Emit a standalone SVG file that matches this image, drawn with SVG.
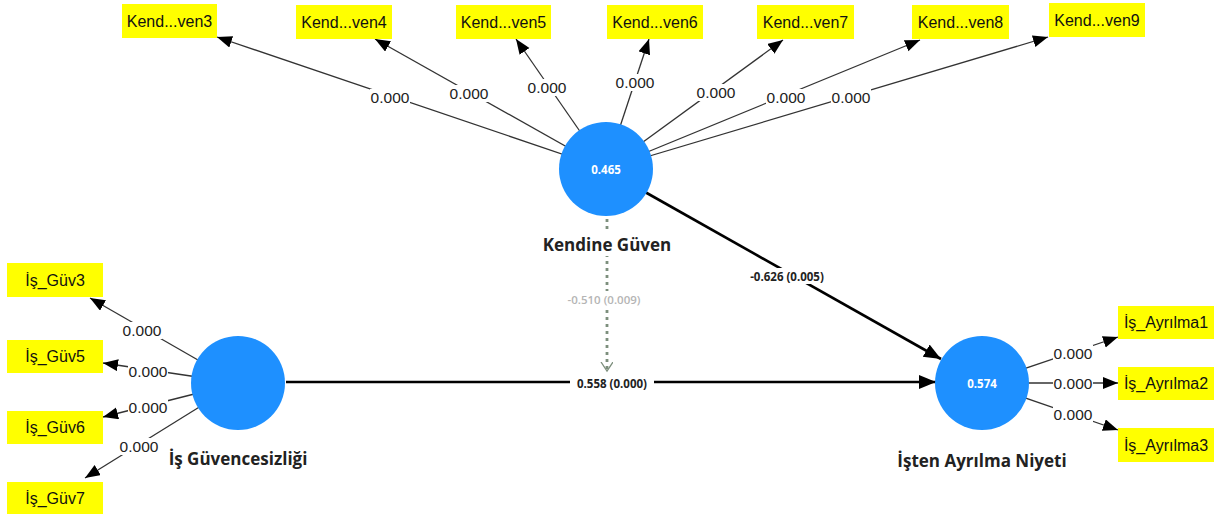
<svg xmlns="http://www.w3.org/2000/svg" width="1215" height="517" viewBox="0 0 1215 517">
<defs>
<style>
.ind{fill:#ffff00}
.it{font-family:"Liberation Sans",Arial,sans-serif;font-size:16px;fill:#111;text-anchor:middle;dominant-baseline:central}
.lv{fill:#1e90ff}
.lt{font-family:"Open Sans","Liberation Sans",sans-serif;font-weight:700;font-size:17px;fill:#222;text-anchor:middle;dominant-baseline:central}
.vt{font-family:"Open Sans","Liberation Sans",sans-serif;font-weight:700;font-size:11.5px;fill:#fff;text-anchor:middle;dominant-baseline:central}
.ol{stroke:#333;stroke-width:1.3;fill:none}
.sl{stroke:#000;stroke-width:2.6;fill:none}
.ml{stroke:#7d8f7d;stroke-width:2.8;stroke-dasharray:3 4;fill:none}
.bg{fill:#fff}
.wt{font-family:"Liberation Sans",Arial,sans-serif;font-size:15.5px;fill:#222;text-anchor:middle;dominant-baseline:central}
.pt{font-family:"Open Sans","Liberation Sans",sans-serif;font-weight:700;font-size:11.5px;fill:#222;text-anchor:middle;dominant-baseline:central}
.mt{font-family:"Open Sans","Liberation Sans",sans-serif;font-weight:600;font-size:11.5px;fill:#b5b5b5;text-anchor:middle;dominant-baseline:central}
</style>
<marker id="a" markerUnits="userSpaceOnUse" markerWidth="16" markerHeight="14" refX="15" refY="6" orient="auto"><path d="M0,0 L15,6 L0,12 Z" fill="#000"/></marker>
<marker id="b" markerUnits="userSpaceOnUse" markerWidth="18" markerHeight="16" refX="17" refY="7" orient="auto"><path d="M0,0 L17,7 L0,14 Z" fill="#000"/></marker>
<marker id="o" markerUnits="userSpaceOnUse" markerWidth="14" markerHeight="14" refX="9" refY="6" orient="auto"><path d="M0,0 L9,6 L0,12" fill="none" stroke="#7d8f7d" stroke-width="1.3"/></marker>
</defs>
<rect width="1215" height="517" fill="#fff"/>
<g id="connectors">
<line class="ol" x1="606" y1="169" x2="217" y2="37" marker-end="url(#a)"/>
<line class="ol" x1="606" y1="169" x2="375" y2="39" marker-end="url(#a)"/>
<line class="ol" x1="606" y1="169" x2="516" y2="39" marker-end="url(#a)"/>
<line class="ol" x1="606" y1="169" x2="649" y2="39" marker-end="url(#a)"/>
<line class="ol" x1="606" y1="169" x2="783" y2="40" marker-end="url(#a)"/>
<line class="ol" x1="606" y1="169" x2="920" y2="40" marker-end="url(#a)"/>
<line class="ol" x1="606" y1="169" x2="1048" y2="37" marker-end="url(#a)"/>
<line class="ol" x1="238" y1="383" x2="90" y2="298" marker-end="url(#a)"/>
<line class="ol" x1="238" y1="383" x2="103" y2="363" marker-end="url(#a)"/>
<line class="ol" x1="238" y1="383" x2="103" y2="417" marker-end="url(#a)"/>
<line class="ol" x1="238" y1="383" x2="85" y2="478" marker-end="url(#a)"/>
<line class="ol" x1="982" y1="383" x2="1118" y2="337" marker-end="url(#a)"/>
<line class="ol" x1="982" y1="383" x2="1118" y2="383" marker-end="url(#a)"/>
<line class="ol" x1="982" y1="383" x2="1118" y2="430" marker-end="url(#a)"/>
<line class="sl" x1="286" y1="382" x2="936" y2="382" marker-end="url(#b)"/>
<line class="sl" x1="645" y1="192" x2="941" y2="359" marker-end="url(#b)"/>
<line class="ml" x1="607" y1="219" x2="607" y2="371" marker-end="url(#o)"/>
<rect class="bg" x="370" y="89" width="40" height="17"/><text class="wt" x="390" y="97.5">0.000</text>
<rect class="bg" x="449" y="85" width="40" height="17"/><text class="wt" x="469" y="93">0.000</text>
<rect class="bg" x="527" y="79" width="40" height="17"/><text class="wt" x="547" y="87">0.000</text>
<rect class="bg" x="615" y="74" width="40" height="17"/><text class="wt" x="635" y="82">0.000</text>
<rect class="bg" x="696" y="84" width="40" height="17"/><text class="wt" x="716" y="92">0.000</text>
<rect class="bg" x="766" y="89" width="40" height="17"/><text class="wt" x="786" y="97">0.000</text>
<rect class="bg" x="831" y="89" width="40" height="17"/><text class="wt" x="851" y="97">0.000</text>
<rect class="bg" x="122" y="322" width="40" height="17"/><text class="wt" x="142" y="330">0.000</text>
<rect class="bg" x="128" y="363" width="40" height="17"/><text class="wt" x="148" y="371">0.000</text>
<rect class="bg" x="128" y="399" width="40" height="17"/><text class="wt" x="148" y="407">0.000</text>
<rect class="bg" x="119" y="438" width="40" height="17"/><text class="wt" x="139" y="446">0.000</text>
<rect class="bg" x="1053" y="345" width="40" height="17"/><text class="wt" x="1073" y="353">0.000</text>
<rect class="bg" x="1053" y="375" width="40" height="17"/><text class="wt" x="1073" y="383">0.000</text>
<rect class="bg" x="1053" y="406" width="40" height="17"/><text class="wt" x="1073" y="414">0.000</text>
<rect class="bg" x="570" y="375" width="84" height="16"/><text class="pt" x="612" y="383">0.558 (0.000)</text>
<rect class="bg" x="745" y="268" width="84" height="16"/><text class="pt" x="787" y="276">-0.626 (0.005)</text>
<rect class="bg" x="562" y="291" width="84" height="16"/><text class="mt" x="604" y="299">-0.510 (0.009)</text>
</g>
<g id="kendine-guven">
<circle class="lv" cx="606" cy="169" r="47"/>
<text class="vt" x="606" y="169">0.465</text>
<rect class="bg" x="540" y="232" width="134" height="24"/>
<text class="lt" x="607" y="244">Kendine Güven</text>
</g>
<g id="is-guvencesizligi">
<circle class="lv" cx="238" cy="383" r="47"/>
<text class="lt" x="238" y="458">İş Güvencesizliği</text>
</g>
<g id="isten-ayrilma-niyeti">
<circle class="lv" cx="982" cy="383" r="47"/>
<text class="vt" x="982" y="383">0.574</text>
<text class="lt" x="982" y="460">İşten Ayrılma Niyeti</text>
</g>
<g id="kend3"><rect class="ind" x="122" y="4" width="95" height="34"/><text class="it" x="169.5" y="21">Kend...ven3</text></g>
<g id="kend4"><rect class="ind" x="296" y="5" width="96" height="34"/><text class="it" x="344" y="22">Kend...ven4</text></g>
<g id="kend5"><rect class="ind" x="456" y="5" width="95" height="34"/><text class="it" x="503.5" y="22">Kend...ven5</text></g>
<g id="kend6"><rect class="ind" x="607" y="5" width="96" height="34"/><text class="it" x="655" y="22">Kend...ven6</text></g>
<g id="kend7"><rect class="ind" x="757" y="5" width="97" height="34"/><text class="it" x="805.5" y="22">Kend...ven7</text></g>
<g id="kend8"><rect class="ind" x="912" y="5" width="97" height="34"/><text class="it" x="960.5" y="22">Kend...ven8</text></g>
<g id="kend9"><rect class="ind" x="1049" y="3" width="96" height="34"/><text class="it" x="1097" y="20">Kend...ven9</text></g>
<g id="guv3"><rect class="ind" x="7" y="263" width="96" height="34"/><text class="it" x="55" y="280">İş_Güv3</text></g>
<g id="guv5"><rect class="ind" x="7" y="340" width="96" height="33"/><text class="it" x="55" y="356.5">İş_Güv5</text></g>
<g id="guv6"><rect class="ind" x="7" y="411" width="96" height="33"/><text class="it" x="55" y="427.5">İş_Güv6</text></g>
<g id="guv7"><rect class="ind" x="7" y="482" width="96" height="32"/><text class="it" x="55" y="498">İş_Güv7</text></g>
<g id="ayr1"><rect class="ind" x="1118" y="306" width="96" height="33"/><text class="it" x="1166" y="322.5">İş_Ayrılma1</text></g>
<g id="ayr2"><rect class="ind" x="1118" y="367" width="96" height="33"/><text class="it" x="1166" y="383.5">İş_Ayrılma2</text></g>
<g id="ayr3"><rect class="ind" x="1118" y="428" width="96" height="34"/><text class="it" x="1166" y="445">İş_Ayrılma3</text></g>
</svg>
